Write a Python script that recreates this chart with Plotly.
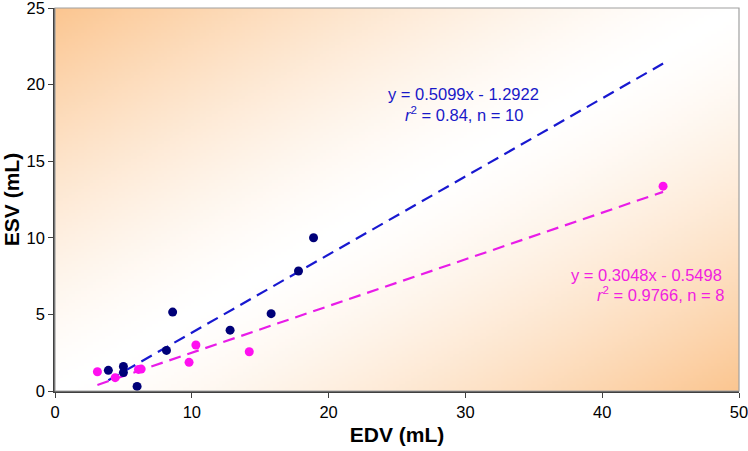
import base64, struct, zlib
import plotly.graph_objects as go

# ---- data ----
edv_a = [3.9, 5.0, 5.0, 6.0, 8.15, 8.6, 12.8, 15.8, 17.8, 18.9]
esv_a = [1.35, 1.6, 1.2, 0.3, 2.65, 5.15, 3.97, 5.05, 7.83, 10.0]
edv_b = [3.1, 4.4, 6.1, 6.3, 9.8, 10.3, 14.2, 44.45]
esv_b = [1.26, 0.87, 1.41, 1.43, 1.87, 3.0, 2.56, 13.37]
slope_a, icpt_a = 0.5099, -1.2922
slope_b, icpt_b = 0.3048, -0.5498
fit_x_a = [3.9, 44.45]
fit_x_b = [3.1, 44.45]
x_ticks = [0, 10, 20, 30, 40, 50]
y_ticks = [0, 5, 10, 15, 20, 25]

# ---- background gradient image (style only) ----
def make_png(w, h):
    org = (251, 198, 145)
    rows = []
    for j in range(h):
        yn = 1 - j / (h - 1)
        row = bytearray([0])
        for i in range(w):
            xn = i / (w - 1)
            t = min(1.0, abs(xn - yn)) ** 1.4
            row += bytes(int(round(255 * (1 - t) + c * t)) for c in org)
        rows.append(bytes(row))
    raw = b"".join(rows)

    def chunk(tag, data):
        c = tag + data
        return struct.pack(">I", len(data)) + c + struct.pack(">I", zlib.crc32(c) & 0xFFFFFFFF)

    png = b"\x89PNG\r\n\x1a\n"
    png += chunk(b"IHDR", struct.pack(">IIBBBBB", w, h, 8, 2, 0, 0, 0))
    png += chunk(b"IDAT", zlib.compress(raw, 9))
    png += chunk(b"IEND", b"")
    return "data:image/png;base64," + base64.b64encode(png).decode()

bg = make_png(228, 128)

fig = go.Figure()
fig.add_trace(go.Scatter(
    x=fit_x_a, y=[slope_a * v + icpt_a for v in fit_x_a], mode="lines",
    line=dict(color="#1818D0", width=2.2, dash="12px,7px"), hoverinfo="skip"))
fig.add_trace(go.Scatter(
    x=fit_x_b, y=[slope_b * v + icpt_b for v in fit_x_b], mode="lines",
    line=dict(color="#E81CE8", width=2.2, dash="12px,7px"), hoverinfo="skip"))
fig.add_trace(go.Scatter(
    x=edv_a, y=esv_a, mode="markers",
    marker=dict(color="#000078", size=9)))
fig.add_trace(go.Scatter(
    x=edv_b, y=esv_b, mode="markers",
    marker=dict(color="#FF10F0", size=9)))

font_fam = "Liberation Sans, Arial, sans-serif"
blue_txt = dict(family=font_fam, size=16.5, color="#1818C8")
mag_txt = dict(family=font_fam, size=16.5, color="#F020E0")

fig.add_annotation(x=29.88, y=19.4, showarrow=False, xanchor="center",
                   text=f"y = {slope_a}x - {abs(icpt_a)}", font=blue_txt)
fig.add_annotation(x=29.88, y=18.1, showarrow=False, xanchor="center",
                   text="<i>r</i><sup>2</sup> = 0.84, n = 10", font=blue_txt)
fig.add_annotation(x=48.93, y=7.55, showarrow=False, xanchor="right",
                   text=f"y = {slope_b}x - {abs(icpt_b)}", font=mag_txt)
fig.add_annotation(x=49.15, y=6.32, showarrow=False, xanchor="right",
                   text="<i>r</i><sup>2</sup> = 0.9766, n = 8", font=mag_txt)

fig.add_layout_image(dict(
    source=bg, xref="paper", yref="paper", x=0, y=1, sizex=1, sizey=1,
    sizing="stretch", xanchor="left", yanchor="top", layer="below"))

fig.add_shape(type="rect", xref="paper", yref="paper", x0=0, y0=0, x1=1, y1=1,
              line=dict(color="#A0A0A0", width=1.2), layer="above")

fig.update_layout(
    width=748, height=451,
    margin=dict(l=55, r=9, t=8, b=60),
    paper_bgcolor="white", plot_bgcolor="white",
    showlegend=False,
    font=dict(family=font_fam, size=16.5, color="black"),
    xaxis=dict(
        range=[0, 50], tickvals=x_ticks, ticks="outside", ticklen=5,
        tickcolor="#404040", showline=True, linecolor="#404040", linewidth=1.5,
        showgrid=False, zeroline=False, tickfont=dict(size=16.5), automargin=False,
        ticklabeloverflow="allow",
        title=dict(text="<b>EDV (mL)</b>", font=dict(size=21), standoff=8)),
    yaxis=dict(
        range=[0, 25], tickvals=y_ticks, ticks="outside", ticklen=5,
        tickcolor="#404040", showline=True, linecolor="#404040", linewidth=1.5,
        showgrid=False, zeroline=False, tickfont=dict(size=16.5), automargin=False,
        ticklabeloverflow="allow",
        title=dict(text="<b>ESV (mL)</b>", font=dict(size=21), standoff=8)),
)

fig.write_html("out.html", config={"displayModeBar": False},
               post_script="document.body.style.margin='0';document.body.style.overflow='hidden';")
